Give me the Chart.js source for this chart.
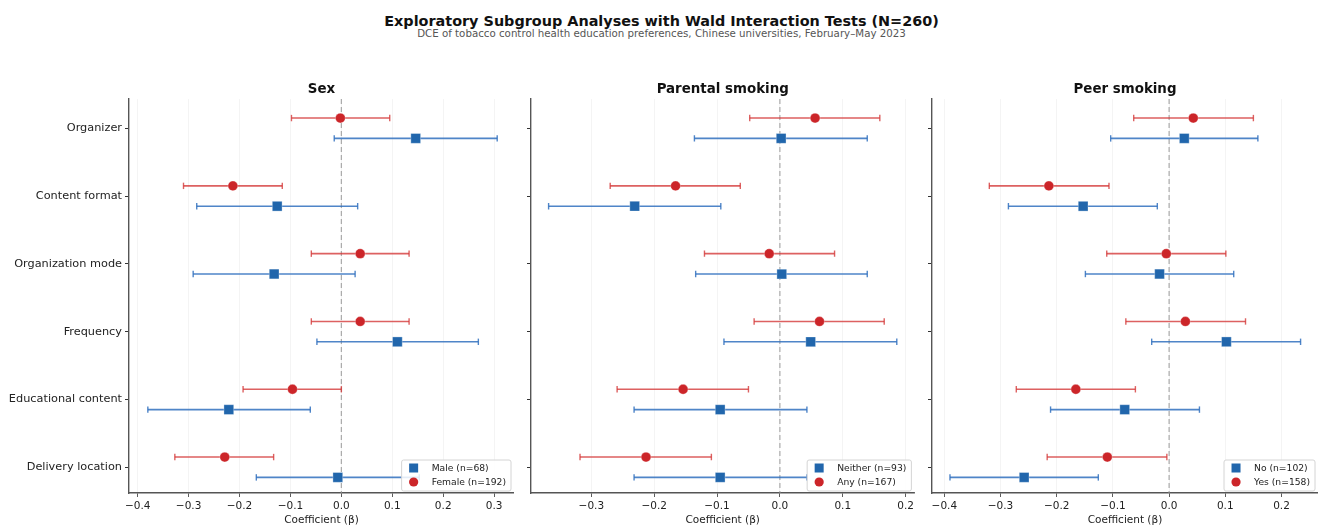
<!DOCTYPE html>
<html>
<head>
<meta charset="utf-8">
<script src="https://cdn.jsdelivr.net/npm/chart.js@4.4.1/dist/chart.umd.min.js"></script>
<style>
  html, body { margin: 0; padding: 0; background: #fff; }
  body { width: 1323px; height: 527px; position: relative; overflow: hidden; font-family: "DejaVu Sans", sans-serif; }
  .title { position: absolute; left: 0; width: 1323px; text-align: center; white-space: nowrap; }
  #mainTitle { top: 13px; font-size: 14.4px; font-weight: bold; color: #111; }
  #subTitle { top: 27px; font-size: 10.25px; color: #555; }
  .panel { position: absolute; top: 81px; height: 446px; }
</style>
</head>
<body>
<div id="mainTitle" class="title">Exploratory Subgroup Analyses with Wald Interaction Tests (N=260)</div>
<div id="subTitle" class="title">DCE of tobacco control health education preferences, Chinese universities, February–May 2023</div>
<div class="panel" style="left:0px;width:514px"><canvas id="sexChart"></canvas></div>
<div class="panel" style="left:520px;width:397px"><canvas id="parentChart"></canvas></div>
<div class="panel" style="left:920px;width:398px"><canvas id="peerChart"></canvas></div>

<script>
"use strict";

/* ── Data ─────────────────────────────────────────────────────────────── */
const categories = [
  "Organizer", "Content format", "Organization mode",
  "Frequency", "Educational content", "Delivery location",
];

// Sex
const sexTicks = [-0.4, -0.3, -0.2, -0.1, 0.0, 0.1, 0.2, 0.3];
const sexMaleEst = [0.146, -0.126, -0.132, 0.110, -0.221, -0.007];
const sexMaleLo  = [-0.014, -0.284, -0.291, -0.048, -0.380, -0.167];
const sexMaleHi  = [0.306, 0.032, 0.027, 0.269, -0.061, 0.153];
const sexFemaleEst = [-0.002, -0.213, 0.037, 0.037, -0.096, -0.229];
const sexFemaleLo  = [-0.098, -0.310, -0.059, -0.059, -0.193, -0.327];
const sexFemaleHi  = [0.095, -0.116, 0.133, 0.133, 0.000, -0.133];

// Parental smoking
const parentTicks = [-0.3, -0.2, -0.1, 0.0, 0.1, 0.2];
const parNeitherEst = [0.002, -0.231, 0.003, 0.049, -0.095, -0.095];
const parNeitherLo  = [-0.136, -0.368, -0.134, -0.089, -0.232, -0.232];
const parNeitherHi  = [0.139, -0.094, 0.139, 0.186, 0.043, 0.043];
const parAnyEst = [0.056, -0.166, -0.017, 0.063, -0.154, -0.213];
const parAnyLo  = [-0.048, -0.270, -0.120, -0.041, -0.259, -0.318];
const parAnyHi  = [0.159, -0.063, 0.087, 0.166, -0.050, -0.109];

// Peer smoking
const peerTicks = [-0.4, -0.3, -0.2, -0.1, 0.0, 0.1, 0.2];
const peerNoEst = [0.027, -0.153, -0.017, 0.102, -0.079, -0.258];
const peerNoLo  = [-0.104, -0.286, -0.149, -0.031, -0.211, -0.390];
const peerNoHi  = [0.158, -0.021, 0.115, 0.234, 0.054, -0.126];
const peerYesEst = [0.043, -0.214, -0.005, 0.029, -0.166, -0.110];
const peerYesLo  = [-0.063, -0.320, -0.111, -0.077, -0.272, -0.217];
const peerYesHi  = [0.150, -0.107, 0.101, 0.136, -0.060, -0.004];

/* ── Styles ──────────────────────────────────────────────────────────── */
const BLUE = "#2166ac";
const BLUE_BAR = "rgba(48, 112, 190, 0.85)";
const RED = "#cc2529";
const RED_BAR = "rgba(212, 52, 52, 0.78)";
const FONT = "'DejaVu Sans', sans-serif";

/* ── Plugins ─────────────────────────────────────────────────────────── */
// dashed vertical reference line at beta = 0
const zeroLine = {
  id: "zeroLine",
  beforeDatasetsDraw(chart) {
    const { ctx, chartArea, scales } = chart;
    const x = scales.x.getPixelForValue(0);
    ctx.save();
    ctx.strokeStyle = "rgba(150,150,150,0.8)";
    ctx.lineWidth = 1.2;
    ctx.setLineDash([5, 3]);
    ctx.beginPath();
    ctx.moveTo(x, chartArea.top);
    ctx.lineTo(x, chartArea.bottom);
    ctx.stroke();
    ctx.restore();
  },
};

// matplotlib-like legend box in the lower right corner
const boxLegend = {
  id: "boxLegend",
  afterDraw(chart) {
    const { ctx, chartArea } = chart;
    const items = chart.data.datasets.filter((d) => d.inLegend);
    ctx.save();
    ctx.font = `9.2px ${FONT}`;
    const textW = Math.max(...items.map((d) => ctx.measureText(d.label).width));
    const w = 30 + textW + 5;
    const h = 31;
    const x = chartArea.right - 3 - w;
    const y = chartArea.bottom - 2 - h;

    ctx.fillStyle = "rgba(255,255,255,0.85)";
    ctx.strokeStyle = "#d4d4d4";
    ctx.lineWidth = 1;
    ctx.beginPath();
    ctx.roundRect(x, y, w, h, 2);
    ctx.fill();
    ctx.stroke();

    items.forEach((d, i) => {
      const cy = y + 8 + i * 14;
      ctx.fillStyle = d.backgroundColor;
      if (d.pointStyle === "rect") {
        ctx.fillRect(x + 12 - 4.5, cy - 4.5, 9, 9);
      } else {
        ctx.beginPath();
        ctx.arc(x + 12, cy, 4.6, 0, Math.PI * 2);
        ctx.fill();
      }
      ctx.fillStyle = "#222";
      ctx.textAlign = "left";
      ctx.textBaseline = "middle";
      ctx.fillText(d.label, x + 30, cy + 0.5);
    });
    ctx.restore();
  },
};

/* ── Helpers ─────────────────────────────────────────────────────────── */
function fmtTick(v) {
  const s = Math.abs(v) < 1e-9 ? "0.0" : v.toFixed(1);
  return s.replace("-", "\u2212");
}

// one dataset of line segments (lo → hi) broken by gaps, capped with rotated "line" points
function errorBars(lo, hi, offset, color) {
  const data = [];
  lo.forEach((v, i) => {
    data.push({ x: v, y: i + offset }, { x: hi[i], y: i + offset }, { x: null, y: null });
  });
  return {
    label: "ci",
    data,
    showLine: true,
    spanGaps: false,
    borderColor: color,
    borderWidth: 1.6,
    pointStyle: "line",
    rotation: 90,
    pointRadius: 3.2,
    pointBorderWidth: 1.4,
    pointBorderColor: color,
    pointHoverRadius: 3.2,
    order: 2,
  };
}

function estimates(label, est, offset, color, style, radius) {
  return {
    label,
    inLegend: true,
    data: est.map((v, i) => ({ x: v, y: i + offset })),
    showLine: false,
    pointStyle: style,
    pointRadius: radius,
    pointHoverRadius: radius,
    backgroundColor: color,
    borderColor: "rgba(255,255,255,0.5)",
    pointBorderWidth: 0.6,
    order: 1,
  };
}

function makePanel(id, title, xMin, xMax, ticks, groups, yAxisWidth, showLabels) {
  const datasets = [];
  groups.forEach((g) => {
    datasets.push(errorBars(g.lo, g.hi, g.offset, g.barColor));
  });
  groups.forEach((g) => {
    datasets.push(estimates(g.label, g.est, g.offset, g.color, g.style, g.radius));
  });

  new Chart(document.getElementById(id), {
    type: "scatter",
    data: { datasets },
    plugins: [zeroLine, boxLegend],
    options: {
      responsive: true,
      maintainAspectRatio: false,
      animation: false,
      layout: { padding: 0, autoPadding: false },
      plugins: {
        legend: { display: false },
        tooltip: { enabled: false },
        title: {
          display: true,
          fullSize: false,
          text: title,
          color: "#111",
          font: { family: FONT, size: 13.4, weight: "bold", lineHeight: 1.2 },
          padding: { top: 0, bottom: 2 },
        },
      },
      scales: {
        x: {
          type: "linear",
          min: xMin,
          max: xMax,
          afterBuildTicks: (s) => { s.ticks = ticks.map((v) => ({ value: v })); },
          afterFit: (s) => { s.height = 34; },
          grid: {
            color: "rgba(0,0,0,0.06)",
            tickColor: "#333",
            tickLength: 4,
            lineWidth: 0.8,
          },
          border: { display: true, color: "#555", width: 1.4 },
          ticks: {
            color: "#222",
            padding: 3,
            maxRotation: 0,
            font: { family: FONT, size: 10.5 },
            callback: (v) => fmtTick(v),
          },
          title: {
            display: true,
            text: "Coefficient (β)",
            color: "#222",
            font: { family: FONT, size: 10.5 },
            padding: { top: 0, bottom: 0 },
          },
        },
        y: {
          type: "linear",
          min: -0.43,
          max: 5.38,
          reverse: true,
          afterBuildTicks: (s) => { s.ticks = categories.map((_, i) => ({ value: i })); },
          afterFit: (s) => { s.width = yAxisWidth; },
          grid: {
            drawOnChartArea: false,
            tickColor: "#333",
            tickLength: 4,
          },
          border: { display: true, color: "#555", width: 1.4 },
          ticks: {
            color: "#222",
            padding: 3,
            font: { family: FONT, size: 11.3 },
            callback: (v) => (showLabels ? categories[v] : ""),
          },
        },
      },
    },
  });
}

/* ── Bootstrap ───────────────────────────────────────────────────────── */
const BLUE_OFF = 0.15;
const RED_OFF = -0.15;

makePanel("sexChart", "Sex", -0.417, 0.339, sexTicks, [
  { label: "Male (n=68)", est: sexMaleEst, lo: sexMaleLo, hi: sexMaleHi, offset: BLUE_OFF,
    color: BLUE, barColor: BLUE_BAR, style: "rect", radius: 6.9 },
  { label: "Female (n=192)", est: sexFemaleEst, lo: sexFemaleLo, hi: sexFemaleHi, offset: RED_OFF,
    color: RED, barColor: RED_BAR, style: "circle", radius: 4.9 },
], 129, true);

makePanel("parentChart", "Parental smoking", -0.396, 0.214, parentTicks, [
  { label: "Neither (n=93)", est: parNeitherEst, lo: parNeitherLo, hi: parNeitherHi, offset: BLUE_OFF,
    color: BLUE, barColor: BLUE_BAR, style: "rect", radius: 6.9 },
  { label: "Any (n=167)", est: parAnyEst, lo: parAnyLo, hi: parAnyHi, offset: RED_OFF,
    color: RED, barColor: RED_BAR, style: "circle", radius: 4.9 },
], 11, false);

makePanel("peerChart", "Peer smoking", -0.422, 0.265, peerTicks, [
  { label: "No (n=102)", est: peerNoEst, lo: peerNoLo, hi: peerNoHi, offset: BLUE_OFF,
    color: BLUE, barColor: BLUE_BAR, style: "rect", radius: 6.9 },
  { label: "Yes (n=158)", est: peerYesEst, lo: peerYesLo, hi: peerYesHi, offset: RED_OFF,
    color: RED, barColor: RED_BAR, style: "circle", radius: 4.9 },
], 12, false);
</script>
</body>
</html>
